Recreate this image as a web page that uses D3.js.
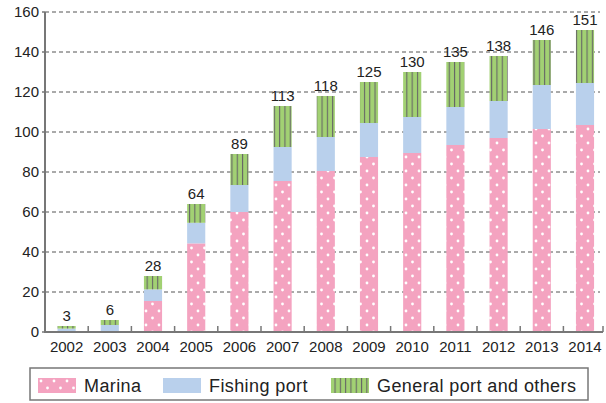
<!DOCTYPE html>
<html>
<head>
<meta charset="utf-8">
<script src="https://cdn.jsdelivr.net/npm/d3@7"></script>
<style>
  body { margin: 0; background: #fff; }
  svg { display: block; font-family: "Liberation Sans", Arial, sans-serif; }
</style>
</head>
<body>
<svg id="chart" width="606" height="403"></svg>
<script>
const years = ["2002","2003","2004","2005","2006","2007","2008","2009","2010","2011","2012","2013","2014"];
const marina  = [0.5, 0.5, 15.5, 44.3, 60, 75.5, 80.5, 87.5, 89.5, 93.5, 97, 101.5, 103.5];
const fishing = [1.2, 3, 5.8, 10.3, 13.5, 17, 17, 17, 18, 19, 18.5, 22, 21];
const general = [1.3, 2.5, 6.7, 9.4, 15.5, 20.5, 20.5, 20.5, 22.5, 22.5, 22.5, 22.5, 26.5];
const totals  = [3, 6, 28, 64, 89, 113, 118, 125, 130, 135, 138, 146, 151];
const yTicks  = [0, 20, 40, 60, 80, 100, 120, 140, 160];

const series = [
  { key: "marina",  label: "Marina",                  values: marina,  fill: "url(#dots)" },
  { key: "fishing", label: "Fishing port",            values: fishing, fill: "#b9d0ec" },
  { key: "general", label: "General port and others", values: general, fill: "url(#stripes)" }
];

const svg = d3.select("#chart");
const plotLeft = 45, plotRight = 606.6, plotTop = 12, plotBottom = 332;

// patterns
const defs = svg.append("defs");
const dots = defs.append("pattern").attr("id", "dots")
  .attr("patternUnits", "userSpaceOnUse").attr("width", 13).attr("height", 14);
dots.append("rect").attr("width", 13).attr("height", 14).attr("fill", "#f4a3c0");
dots.append("circle").attr("cx", 3).attr("cy", 3).attr("r", 1.4).attr("fill", "#fff");
dots.append("circle").attr("cx", 9.5).attr("cy", 10).attr("r", 1.4).attr("fill", "#fff");

const stripes = defs.append("pattern").attr("id", "stripes")
  .attr("patternUnits", "userSpaceOnUse").attr("width", 5.3).attr("height", 10);
stripes.append("rect").attr("width", 5.3).attr("height", 10).attr("fill", "#a2d173");
stripes.append("rect").attr("x", 3.5).attr("width", 1.1).attr("height", 10).attr("fill", "#666");

const x = d3.scaleBand().domain(years).range([plotLeft, plotRight]).paddingInner(0.58).paddingOuter(0.29);
const y = d3.scaleLinear().domain([0, 160]).range([plotBottom, plotTop]);

// grid
svg.append("g").selectAll("line").data(yTicks.filter(d => d > 0)).join("line")
  .attr("x1", plotLeft).attr("x2", 600)
  .attr("y1", d => y(d)).attr("y2", d => y(d))
  .attr("stroke", "#555").attr("stroke-width", 1).attr("stroke-dasharray", "4,3");

// y axis labels
svg.append("g").selectAll("text").data(yTicks).join("text")
  .attr("x", 39).attr("y", d => y(d) + 5)
  .attr("text-anchor", "end").attr("font-size", 15).attr("fill", "#222")
  .text(d => d);

// bars
const stack = d3.stack().keys(series.map(s => s.key))(years.map((yr, i) => ({
  year: yr, marina: marina[i], fishing: fishing[i], general: general[i]
})));

svg.append("g").selectAll("g").data(stack).join("g")
  .attr("fill", (d, i) => series[i].fill)
  .selectAll("rect").data(d => d).join("rect")
  .attr("x", d => x(d.data.year))
  .attr("width", x.bandwidth())
  .attr("y", d => y(d[1]))
  .attr("height", d => y(d[0]) - y(d[1]));

// totals
svg.append("g").selectAll("text").data(years).join("text")
  .attr("x", d => x(d) + x.bandwidth() / 2)
  .attr("y", (d, i) => y(totals[i]) - 5)
  .attr("text-anchor", "middle").attr("font-size", 15).attr("fill", "#222")
  .text((d, i) => totals[i]);

// axes lines
svg.append("line").attr("x1", plotLeft).attr("x2", plotLeft).attr("y1", plotTop).attr("y2", plotBottom + 1)
  .attr("stroke", "#777").attr("stroke-width", 2);
svg.append("line").attr("x1", plotLeft).attr("x2", 603).attr("y1", plotBottom).attr("y2", plotBottom)
  .attr("stroke", "#777").attr("stroke-width", 2);
svg.append("g").selectAll("line").data(yTicks).join("line")
  .attr("x1", plotLeft - 3).attr("x2", plotLeft).attr("y1", d => y(d)).attr("y2", d => y(d))
  .attr("stroke", "#777").attr("stroke-width", 1.5);

// x category ticks
const step = x.step();
svg.append("g").selectAll("line").data(years.slice(1)).join("line")
  .attr("x1", d => x(d) - (step - x.bandwidth()) / 2)
  .attr("x2", d => x(d) - (step - x.bandwidth()) / 2)
  .attr("y1", plotBottom - 6).attr("y2", plotBottom)
  .attr("stroke", "#777").attr("stroke-width", 1.5);
svg.append("line").attr("x1", 603).attr("x2", 603).attr("y1", plotBottom - 6).attr("y2", plotBottom)
  .attr("stroke", "#777").attr("stroke-width", 1.5);

svg.append("g").selectAll("text").data(years).join("text")
  .attr("x", d => x(d) + x.bandwidth() / 2).attr("y", 352)
  .attr("text-anchor", "middle").attr("font-size", 15).attr("fill", "#222")
  .text(d => d);

// legend
svg.append("rect").attr("x", 30).attr("y", 368).attr("width", 558).attr("height", 32)
  .attr("fill", "none").attr("stroke", "#777").attr("stroke-width", 1.5);
const legendX = [38, 163, 331];
const lg = svg.append("g").selectAll("g").data(series).join("g")
  .attr("transform", (d, i) => `translate(${legendX[i]},378)`);
lg.append("rect").attr("width", 38).attr("height", 15).attr("fill", d => d.fill);
lg.append("text").attr("x", 46).attr("y", 14).attr("font-size", 18)
  .attr("letter-spacing", 0.4).attr("fill", "#222")
  .text(d => d.label);
</script>
</body>
</html>
